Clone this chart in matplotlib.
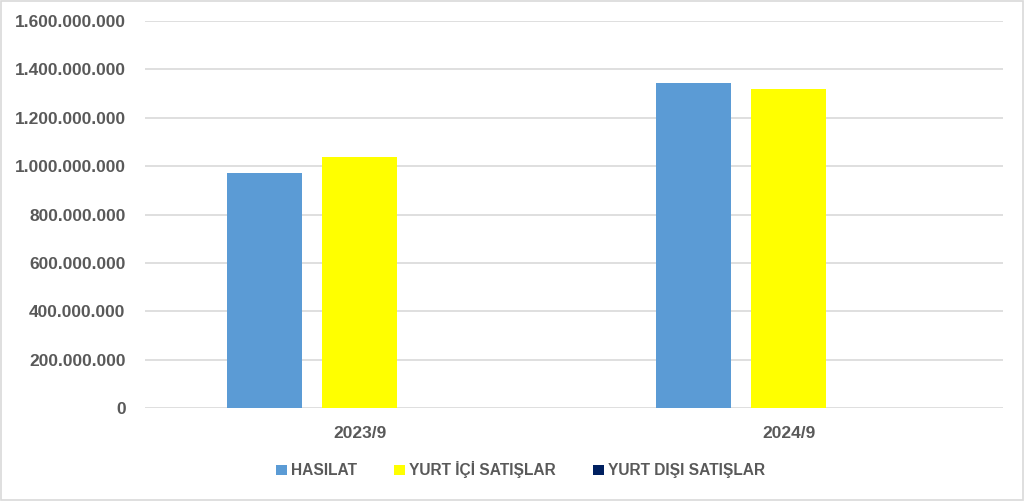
import matplotlib.pyplot as plt
import numpy as np
from matplotlib.ticker import FuncFormatter

plt.rcParams['font.family'] = ['Liberation Sans', 'DejaVu Sans']

# veriler
donemler = ['2023/9', '2024/9']
seriler = ['HASILAT', 'YURT İÇİ SATIŞLAR', 'YURT DIŞI SATIŞLAR']
hasilat = [972_000_000, 1_342_000_000]
yurt_ici = [1_039_000_000, 1_320_000_000]
yurt_disi = [0, 0]
renkler = ['#5b9bd5', '#ffff00', '#002060']

fig = plt.figure(figsize=(10.24, 5.01), dpi=100)
ax = fig.add_axes([0.1416, 0.1856, 0.8379, 0.7724])

x = np.arange(len(donemler))
genislik = 0.175
adim = 0.221
for i, (ad, deger) in enumerate(zip(seriler, [hasilat, yurt_ici, yurt_disi])):
    ax.bar(x + (i - 1) * adim, deger, width=genislik, color=renkler[i], label=ad, zorder=3)

ax.set_xlim(-0.5, 1.5)
ax.set_ylim(0, 1_600_000_000)
ax.set_yticks(np.arange(0, 1_600_000_001, 200_000_000))
ax.yaxis.set_major_formatter(FuncFormatter(lambda v, p: f'{int(v):,}'.replace(',', '.')))
ax.set_xticks(x)
ax.set_xticklabels(donemler)
ax.grid(axis='y', color='#d9d9d9', linewidth=1.2, zorder=0)
for s in ax.spines.values():
    s.set_visible(False)
ax.tick_params(length=0, colors='#595959', labelsize=12.5)
ax.tick_params(axis='y', pad=14)
ax.tick_params(axis='x', pad=13)
for lbl in ax.get_xticklabels() + ax.get_yticklabels():
    lbl.set_fontweight('bold')

leg = fig.legend(loc='center', bbox_to_anchor=(0.508, 0.062), ncol=3, frameon=False,
                 handlelength=0.7, handleheight=0.7, handletextpad=0.25, columnspacing=2.4,
                 prop={'size': 11.2, 'weight': 'bold'})
for t in leg.get_texts():
    t.set_color('#595959')

# dış çerçeve
fig.patches.append(plt.Rectangle((0.001, 0.002), 0.998, 0.996, transform=fig.transFigure,
                                 fill=False, edgecolor='#d9d9d9', linewidth=1.2))

fig.savefig('out.png', dpi=100)
